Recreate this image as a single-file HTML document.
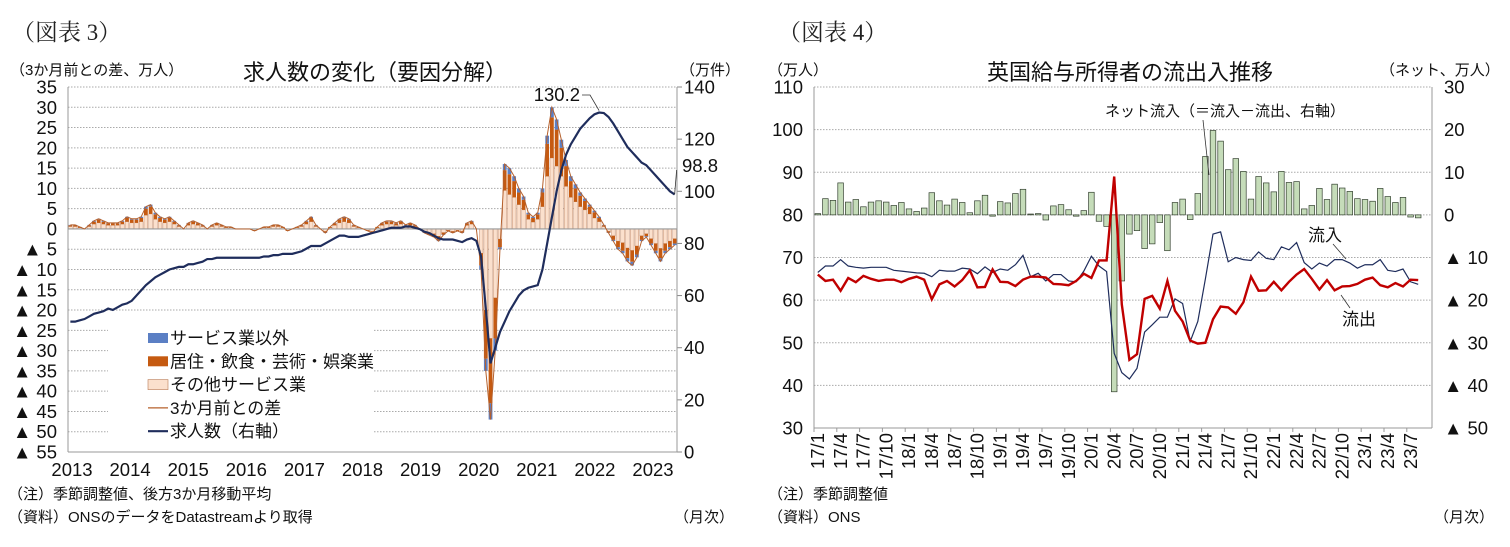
<!DOCTYPE html>
<html><head><meta charset="utf-8">
<style>
body{margin:0;background:#fff;}
svg{display:block;font-family:"Liberation Sans","Noto Sans CJK JP",sans-serif;}
.t{font-size:18.5px;fill:#111;}
.lg{font-size:17px;fill:#111;}
.s{font-size:15px;fill:#111;}
.ttl{font-size:22px;fill:#111;}
.hd{font-family:"Liberation Serif","Noto Serif CJK SC",serif;font-size:23px;fill:#222;}
</style></head>
<body>
<svg id="c" width="1510" height="547" viewBox="0 0 1510 547">
<text class="hd" x="12" y="40">（図表 3）</text>
<text class="hd" x="778" y="40">（図表 4）</text>
<text class="s" x="10" y="75">（3か月前との差、万人）</text>
<text class="ttl" x="375" y="80" text-anchor="middle">求人数の変化（要因分解）</text>
<text class="s" x="680" y="75">（万件）</text>
<text class="s" x="8" y="499">（注）季節調整値、後方3か月移動平均</text>
<text class="s" x="8" y="522">（資料）ONSのデータをDatastreamより取得</text>
<text class="s" x="674" y="522">（月次）</text>
<text class="s" x="768" y="75">（万人）</text>
<text class="ttl" x="1130" y="80" text-anchor="middle">英国給与所得者の流出入推移</text>
<text class="s" x="1380" y="75">（ネット、万人）</text>
<text class="s" x="768" y="499">（注）季節調整値</text>
<text class="s" x="768" y="522">（資料）ONS</text>
<text class="s" x="1434" y="522">（月次）</text>
</svg>
<script>
// ===== Figure 3 data (monthly 2013/1 - 2023/9) =====
const years3 = ["2013","2014","2015","2016","2017","2018","2019","2020","2021","2022","2023"];
const leftTicks3 = [35,30,25,20,15,10,5,0,-5,-10,-15,-20,-25,-30,-35,-40,-45,-50,-55];
const rightTicks3 = [140,120,100,80,60,40,20,0];
const totalDiff = [
1,1,0.5,0,1,2,2.5,2,1.5,1.5,1.5,2,
3,2.5,2.5,3,5.5,6,4,3,2.5,3,2,1,
0,1.5,2,1.5,1,0,1,1.5,1,0.5,0.5,0,
0,0,0,-0.5,0,0.5,0.5,1,1,0.5,-0.5,0,
0.5,1,2,3,1,0,-1,0.5,1.5,2.5,3,2.5,
1,0.5,0,-0.5,-1,0.5,1.5,2,2,1.5,2,1,
1.5,1,0,-1,-1.5,-2,-3,-1.5,-0.5,-1,-0.5,-1,
1.5,2,0,-10,-35,-47,-30,-5,16,15,13,10,
8,4,3,4,10,23,30,27,22,17,13,11,
9,7.5,6,4.5,3,1,-1,-3,-5,-6,-8,-9,
-7,-3,-2,-4,-6,-8,-6,-5,-4];
const accomm = [
.3,.3,.2,0,.3,.6,.8,.6,.5,.5,.5,.6,
.9,.8,.8,.9,1.6,1.8,1.2,.9,.8,.9,.6,.3,
0,.5,.6,.5,.3,0,.3,.5,.3,.2,.2,0,
0,0,0,-.2,0,.2,.2,.3,.3,.2,-.2,0,
.2,.3,.6,.9,.3,0,-.3,.2,.5,.8,.9,.8,
.3,.2,0,-.2,-.3,.2,.5,.6,.6,.5,.6,.3,
.5,.3,0,-.3,-.5,-.6,-.9,-.5,-.2,-.3,-.2,-.3,
.5,.6,0,-3,-12,-16,-10,-2,5,5,4,3,
2.5,1.2,1,1.2,3.5,8,10,9,7,5,4,3.3,
2.7,2.2,1.8,1.4,.9,.3,-.3,-1,-1.5,-2,-2.5,-2.8,
-2.1,-1,-.6,-1.2,-1.8,-2.4,-1.8,-1.5,-1.2];
const nonService = [
.1,.1,0,0,.1,.2,.2,.2,.1,.1,.1,.2,
.3,.2,.2,.3,.5,.5,.4,.3,.2,.3,.2,.1,
0,.1,.2,.1,.1,0,.1,.1,.1,0,0,0,
0,0,0,0,0,0,0,.1,.1,0,0,0,
0,.1,.2,.3,.1,0,-.1,0,.1,.2,.3,.2,
.1,0,0,0,-.1,0,.1,.2,.2,.1,.2,.1,
.1,.1,0,-.1,-.1,-.2,-.3,-.1,0,-.1,0,-.1,
.1,.2,0,-1,-3,-4,-3,-.5,1.5,1.5,1.2,1,
.8,.4,.3,.4,1,2,2.5,2.5,2,1.5,1.2,1,
.8,.6,.5,.4,.3,.1,-.1,-.3,-.5,-.6,-.8,-.9,
-.7,-.3,-.2,-.4,-.6,-.8,-.6,-.5,-.4];
const vacancies = [
50,50,50.5,51,52,53,53.5,54,55,54.5,55.5,56.5,
57,58,60,62,64,65.5,67,68,69,70,70.5,71,
71,72,72,72.5,73,74,74,74.5,74.5,74.5,74.5,74.5,
74.5,74.5,74.5,74.5,74.5,75,75,75.5,75.5,76,76,76,
76.5,77,78,79,79,79,80,81,82,83,83,82.5,
82.5,82.5,83,83.5,84,84.5,85,85.5,86,86,86,86.5,
86.5,86,85.5,84.5,84,83,82,81.5,81.5,81.5,81,80.5,
81.5,82,81,75,55,34,40,46,50,54,57,60,
62,63,63.5,64,70,80,90,100,108,114,118,121,
124,126,128,129.5,130.2,130,128.5,126,123,120,117,115,
113,111,110,108,106,104,102,100,98.8];

// ===== Figure 4 data (monthly 2017/1 - 2023/8) =====
const monthLabels4 = ["17/1","17/4","17/7","17/10","18/1","18/4","18/7","18/10","19/1","19/4","19/7","19/10","20/1","20/4","20/7","20/10","21/1","21/4","21/7","21/10","22/1","22/4","22/7","22/10","23/1","23/4","23/7"];
const leftTicks4 = [110,100,90,80,70,60,50,40,30];
const rightTicks4 = [30,20,10,0,-10,-20,-30,-40,-50];
const inflow = [
66.5,68,68,69.5,68,67.7,67.5,67.7,67.7,67.7,67,66.8,
66.6,66.4,66.3,65.5,67,66.8,66.8,67.5,67.3,66.2,67.8,66.5,
67.3,67,68.3,70.5,65.5,66.3,64.5,66,66,64.5,64.3,66.8,
70.3,68,66.7,47.5,43,41.5,44,52.5,54.2,56,56,60.3,
59.2,50.3,55,65,75.5,76,69,70,69.5,69.3,71.3,69.8,
69.5,72.5,71.8,73.5,68.8,67.3,68.7,68,69.5,69.5,68.7,67.5,
68.3,68.3,69.5,67,66.7,67.3,64.3,63.7];
const outflow = [
66,64.5,64.8,62.2,65.2,64.2,65.7,65,64.5,64.8,64.8,64.2,
65,65.5,64.8,60.2,63.7,64.5,63.2,64.7,67,63,63.1,67.2,
64.3,64.2,63.3,64.8,65.5,65.5,65.3,63.8,63.7,63.5,64.5,66.2,
65.2,69.3,69.3,89,59,46,47.3,60.3,61,58,64.5,57.5,
55,50.5,49.8,50,55.5,58.5,58.3,56.8,59.5,65.5,62.2,62.3,
64.3,62.3,64.3,66,67.3,65,62.5,64.7,62.3,63.2,63.3,63.8,
64.8,65.3,63.5,63,64,63.2,64.8,64.7];
const netInflow = [
0.3,3.8,3.4,7.5,3,3.6,1.9,3,3.3,3,2.2,2.9,
1.4,0.8,1.6,5.2,3.3,2.3,3.7,2.9,0.5,3.3,4.6,-0.3,
3.1,2.8,5,6,0.2,0.3,-1.2,2.1,2.4,1.2,-0.3,1,
5.3,-1.5,-2.7,-41.5,-15.5,-4.5,-3.7,-7.9,-6.8,-1.8,-8.4,2.9,
3.7,-1.1,5,13.7,19.8,17.3,10.6,13.2,10.2,3.7,9,7.5,
5.4,10.2,7.6,7.8,1.4,2.2,6.2,3.6,7.2,6.3,5.5,3.8,
3.6,3.2,6.2,4.3,2.9,4.1,-0.5,-0.7];

const NS="http://www.w3.org/2000/svg";
const svg=document.getElementById('c');
function mk(tag,attrs,parent){const e=document.createElementNS(NS,tag);for(const k in attrs)e.setAttribute(k,attrs[k]);(parent||svg).appendChild(e);return e;}

// ---------- Figure 3 ----------
const L3=68,R3=677,T3=87,B3=452;
const bw3=(R3-L3)/totalDiff.length;
const x3=i=>L3+(i+0.5)*bw3;
const yL3=v=>T3+(35-v)*(B3-T3)/90;
const yR3=v=>B3-v*(B3-T3)/140;
const g3=mk('g',{});


leftTicks3.forEach(v=>{
  const y=yL3(v);
  if(v!==0){const gl=mk('line',{x1:L3,x2:R3,y1:y,y2:y,stroke:'#aaa','stroke-width':1,'stroke-dasharray':'1.5,1.5'},g3);
  
  }
  const t=mk('text',{x:57,y:y+6.5,'text-anchor':'end',class:'t'},g3);
  t.textContent=v<0?('▲ '+(-v)):String(v);
  
  
});
rightTicks3.forEach(v=>{
  const y=yR3(v);
  mk('line',{x1:R3,x2:R3+5,y1:y,y2:y,stroke:'#888'},g3);
  const t=mk('text',{x:684,y:y+6.5,class:'t'},g3);
  t.textContent=String(v);
  
  
});
years3.forEach((yr,k)=>{
  const t=mk('text',{x:72+58.1*k,y:476,'text-anchor':'middle',class:'t'},g3);
  t.textContent=yr;
  
  
});
// stacked bars
totalDiff.forEach((tot,i)=>{
  const a=accomm[i], n=nonService[i], o=tot-a-n;
  const x=x3(i)-bw3*0.4, w=bw3*0.8;
  let base=0;
  [[o,'#fbe0cd','fig3-bar-other-services'],[a,'#c55a11','fig3-bar-accommodation'],[n,'#5b7fc4','fig3-bar-non-services']].forEach(([v,c,nm])=>{
    if(v===0)return;
    const y1=yL3(base), y2=yL3(base+v);
    const r=mk('rect',{x:x,y:Math.min(y1,y2),width:w,height:Math.abs(y2-y1),fill:c,stroke:c==='#fbe0cd'?'#b87a55':'none','stroke-width':0.4},g3);
    
    
    base+=v;
  });
});
mk('line',{x1:L3,x2:R3,y1:yL3(0),y2:yL3(0),stroke:'#999','stroke-width':1.2},g3);
mk('line',{x1:L3,x2:L3,y1:T3,y2:B3,stroke:'#999'},g3);
mk('line',{x1:R3,x2:R3,y1:T3,y2:B3,stroke:'#999'},g3);
mk('line',{x1:L3,x2:R3,y1:B3,y2:B3,stroke:'#999'},g3);
const totLine=mk('polyline',{points:totalDiff.map((v,i)=>x3(i)+','+yL3(v)).join(' '),fill:'none',stroke:'#b5602c','stroke-width':1},g3);


const vacLine=mk('polyline',{points:vacancies.map((v,i)=>x3(i)+','+yR3(v)).join(' '),fill:'none',stroke:'#1f2d5c','stroke-width':2.2},g3);


// annotations
const pk=vacancies.indexOf(Math.max(...vacancies));
mk('polyline',{points:`582,95 590,95 ${x3(pk)},${yR3(vacancies[pk])-2}`,fill:'none',stroke:'#333','stroke-width':0.8},g3);
const a1=mk('text',{x:580,y:101,'text-anchor':'end',class:'t'},g3);
a1.textContent=String(vacancies[pk]);


const last=vacancies.length-1;
mk('line',{x1:x3(last),x2:x3(last)+2,y1:yR3(vacancies[last]),y2:170,stroke:'#333','stroke-width':0.8},g3);
const a2=mk('text',{x:682,y:172,class:'t'},g3);
a2.textContent=String(vacancies[last]);


// legend
const lg=mk('g',{},g3);


mk('rect',{x:108,y:322,width:266,height:125,fill:'#fff'},lg);
const legItems=[['サービス業以外','rect','#5b7fc4'],['居住・飲食・芸術・娯楽業','rect','#c55a11'],['その他サービス業','rect','#fbe0cd'],['3か月前との差','line','#b5602c'],['求人数（右軸）','line','#1f2d5c']];
legItems.forEach(([lab,kind,c],k)=>{
  const y=338+k*23.3;
  if(kind==='rect'){const r=mk('rect',{x:148,y:y-5,width:20,height:10,fill:c,stroke:c==='#fbe0cd'?'#b87a55':'none','stroke-width':0.6},lg);
    }
  else{const l=mk('line',{x1:148,x2:168,y1:y,y2:y,stroke:c,'stroke-width':k===4?2.2:1.2},lg);
    }
  const t=mk('text',{x:170,y:y+6,class:'lg'},lg);
  t.textContent=lab;
  
  
});

// ---------- Figure 4 ----------
const L4=814,R4=1432,T4=87,B4=428;
const bw4=7.6;
const x4=i=>L4+(i+0.5)*bw4;
const yA=v=>T4+(110-v)*(B4-T4)/80;
const yB=v=>T4+(30-v)*(B4-T4)/80;
const g4=mk('g',{});


leftTicks4.forEach(v=>{
  const y=yA(v);
  if(v!==30){const gl=mk('line',{x1:L4,x2:R4,y1:y,y2:y,stroke:'#aaa','stroke-width':1,'stroke-dasharray':'1.5,1.5'},g4);
  
  }
  const t=mk('text',{x:803,y:y+6.5,'text-anchor':'end',class:'t'},g4);
  t.textContent=String(v);
  
  
});
rightTicks4.forEach(v=>{
  const y=yB(v);
  const t=mk('text',{x:1444,y:y+6.5,class:'t'},g4);
  t.textContent=v<0?('▲ '+(-v)):String(v);
  
  
});
mk('line',{x1:L4,x2:L4,y1:T4,y2:B4,stroke:'#999'},g4);
mk('line',{x1:R4,x2:R4,y1:T4,y2:B4,stroke:'#999'},g4);
mk('line',{x1:L4,x2:R4,y1:B4,y2:B4,stroke:'#999'},g4);
monthLabels4.forEach((lab,k)=>{
  const tx=L4+k*3*bw4;
  mk('line',{x1:tx,x2:tx,y1:B4,y2:B4+4,stroke:'#999'},g4);
  const t=mk('text',{x:0,y:0,'text-anchor':'end',class:'t',transform:`translate(${tx+10},${B4+5}) rotate(-90)`},g4);
  t.textContent=lab;
  
  
});
netInflow.forEach((v,i)=>{
  const y1=yB(0),y2=yB(v);
  const r=mk('rect',{x:x4(i)-2.8,y:Math.min(y1,y2),width:5.6,height:Math.max(0.8,Math.abs(y2-y1)),fill:'#c5dcb9',stroke:'#33402f','stroke-width':0.7},g4);
  
  
});
const inl=mk('polyline',{points:inflow.map((v,i)=>x4(i)+','+yA(v)).join(' '),fill:'none',stroke:'#1f2d5c','stroke-width':1.2},g4);


const outl=mk('polyline',{points:outflow.map((v,i)=>x4(i)+','+yA(v)).join(' '),fill:'none',stroke:'#c00000','stroke-width':2.4},g4);


// annotations
const an1=mk('text',{x:1225,y:116,'text-anchor':'middle',class:'s'},g4);
an1.textContent='ネット流入（＝流入－流出、右軸）';


mk('line',{x1:1203,x2:1209,y1:120,y2:175,stroke:'#333','stroke-width':0.8},g4);
const an2=mk('text',{x:1308,y:241,class:'lg'},g4);
an2.textContent='流入';


mk('line',{x1:1333,x2:1346,y1:244,y2:259,stroke:'#333','stroke-width':0.8},g4);
const an3=mk('text',{x:1342,y:325,class:'lg'},g4);
an3.textContent='流出';


mk('line',{x1:1350,x2:1341,y1:308,y2:295,stroke:'#333','stroke-width':0.8},g4);
</script>
</body></html>
